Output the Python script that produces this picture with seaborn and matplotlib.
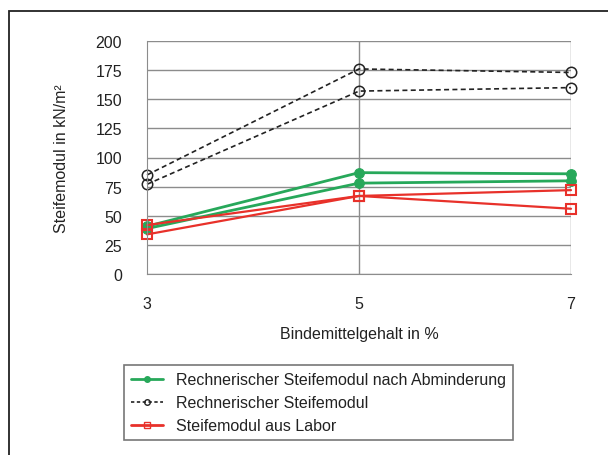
import pandas as pd
import matplotlib
matplotlib.use('Agg')
import matplotlib.pyplot as plt
import seaborn as sns
from matplotlib.lines import Line2D
from matplotlib.patches import Rectangle

# Data
binder = [3, 5, 7]
calc_reduced_a = [41, 87, 86]
calc_reduced_b = [39, 78, 80]
calc_a = [85, 176, 173]
calc_b = [77, 157, 160]
lab_a = [42, 67, 72]
lab_b = [34, 67, 56]

green = '#27a85a'
red = '#e8312a'
grid_c = '#8c8c8c'
txt_c = '#222222'
fs = 11.5

sns.set_style('white')
plt.rcParams['font.family'] = ['Liberation Sans', 'DejaVu Sans']

fig = plt.figure(figsize=(6.08, 4.56), dpi=100)
ax = fig.add_axes([147 / 608, 1 - 275 / 456, 424 / 608, 233 / 456])

# outer frame of the figure
fig.patches.append(Rectangle((9 / 608, -0.05), 1.2, 1 - 12 / 456 + 0.05,
                             transform=fig.transFigure, fill=False,
                             edgecolor=txt_c, linewidth=1.3))

for ys in (calc_a, calc_b):
    sns.lineplot(x=binder, y=ys, ax=ax, color=txt_c, linestyle=(0, (3, 2)),
                 linewidth=1.2, marker='o', markersize=7.5, markerfacecolor='none',
                 markeredgecolor=txt_c, markeredgewidth=1.1, estimator=None, sort=False,
                 clip_on=False)
for ys in (calc_reduced_a, calc_reduced_b):
    sns.lineplot(x=binder, y=ys, ax=ax, color=green, linewidth=2.0,
                 marker='o', markersize=7, markeredgecolor=green,
                 markerfacecolor=green, estimator=None, sort=False, clip_on=False)
for ys in (lab_a, lab_b):
    sns.lineplot(x=binder, y=ys, ax=ax, color=red, linewidth=1.6,
                 marker='s', markersize=7.5, markerfacecolor='none',
                 markeredgecolor=red, markeredgewidth=1.5, estimator=None, sort=False,
                 clip_on=False)

ax.set_xlim(3, 7)
ax.set_ylim(0, 200)
ax.set_xticks(binder)
ax.set_yticks(range(0, 201, 25))
ax.grid(axis='y', color=grid_c, linewidth=1.0)
for xv in (5, 7):
    ax.axvline(xv, color=grid_c, linewidth=1.0, zorder=0)
ax.set_axisbelow(True)
for s in ('top', 'right'):
    ax.spines[s].set_visible(False)
ax.spines['left'].set_color(grid_c)
ax.spines['bottom'].set_color(grid_c)
ax.tick_params(axis='both', which='both', length=3, color=grid_c, direction='out',
               labelsize=fs, labelcolor=txt_c)
ax.tick_params(axis='y', pad=15)
ax.tick_params(axis='x', pad=13)
ax.set_xlabel('Bindemittelgehalt in %', fontsize=fs, color=txt_c, labelpad=11)
ax.set_ylabel('Steifemodul in kN/m²', fontsize=fs, color=txt_c, labelpad=19)

handles = [
    Line2D([], [], color=green, linewidth=2.0, marker='o', markersize=4),
    Line2D([], [], color=txt_c, linewidth=1.2, linestyle=(0, (2, 1.5)), marker='o',
           markersize=4, markerfacecolor='none'),
    Line2D([], [], color=red, linewidth=2.0, marker='s', markersize=4,
           markerfacecolor='none', markeredgecolor=red),
]
labels = ['Rechnerischer Steifemodul nach Abminderung', 'Rechnerischer Steifemodul',
          'Steifemodul aus Labor']
leg = fig.legend(handles, labels, loc='upper left',
                 bbox_to_anchor=(124 / 608, 1 - 366 / 456), fontsize=fs,
                 frameon=True, fancybox=False, edgecolor='#555555', handlelength=2.0,
                 borderpad=0.45, labelspacing=0.5, handletextpad=0.8, borderaxespad=0)
leg.get_frame().set_linewidth(1.2)
for t in leg.get_texts():
    t.set_color(txt_c)

fig.savefig('out.png', dpi=100)
